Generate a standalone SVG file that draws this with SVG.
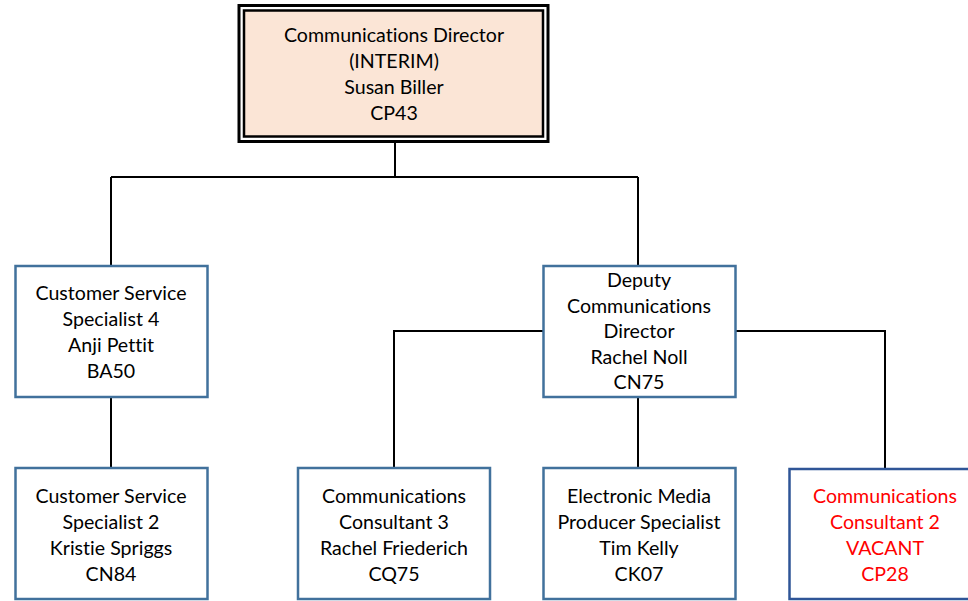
<svg xmlns="http://www.w3.org/2000/svg" width="968" height="601" viewBox="0 0 968 601">
<style>
text{font-family:Lato,"Liberation Sans",sans-serif;font-size:19.6px;fill:#000;text-anchor:middle;font-variant-ligatures:none;font-feature-settings:"liga" 0}
.box{fill:#fff;stroke:#41719C;stroke-width:2.5}
.red text{fill:#FF0000}
.conn{stroke:#000;stroke-width:2;fill:none}
</style>
<rect width="968" height="601" fill="#fff"/>
<g id="connectors">
<path class="conn" d="M395,142 V177 M111,177 H638 M111,177 V266 M638,177 V266"/>
<path class="conn" d="M111,397 V468" stroke-width="2.5"/>
<path class="conn" d="M394,468 V331 H544 M736,331 H885 V468 M638,397 V468"/>
</g>
<g id="director">
<rect x="239" y="5.5" width="309" height="136" fill="#fff" stroke="#000" stroke-width="3"/>
<rect x="244" y="10.5" width="299" height="126" fill="#FBE5D6" stroke="#000" stroke-width="2.5"/>
<text x="394" y="42">Communications Director</text>
<text x="394" y="68">(INTERIM)</text>
<text x="394" y="94">Susan Biller</text>
<text x="394" y="120">CP43</text>
</g>
<g id="cs4">
<rect class="box" x="15.5" y="266" width="192" height="131"/>
<text x="111" y="300">Customer Service</text>
<text x="111" y="326">Specialist 4</text>
<text x="111" y="352">Anji Pettit</text>
<text x="111" y="378">BA50</text>
</g>
<g id="deputy">
<rect class="box" x="543.5" y="266" width="192" height="131"/>
<text x="639" y="287">Deputy</text>
<text x="639" y="313">Communications</text>
<text x="639" y="338">Director</text>
<text x="639" y="364">Rachel Noll</text>
<text x="639" y="389">CN75</text>
</g>
<g id="cs2">
<rect class="box" x="15.5" y="468" width="192" height="131"/>
<text x="111" y="503">Customer Service</text>
<text x="111" y="529">Specialist 2</text>
<text x="111" y="555">Kristie Spriggs</text>
<text x="111" y="581">CN84</text>
</g>
<g id="cc3">
<rect class="box" x="298" y="468" width="192" height="131"/>
<text x="394" y="503">Communications</text>
<text x="394" y="529">Consultant 3</text>
<text x="394" y="555">Rachel Friederich</text>
<text x="394" y="581">CQ75</text>
</g>
<g id="emps">
<rect class="box" x="543.5" y="468" width="192" height="131"/>
<text x="639" y="503">Electronic Media</text>
<text x="639" y="529">Producer Specialist</text>
<text x="639" y="555">Tim Kelly</text>
<text x="639" y="581">CK07</text>
</g>
<g id="cc2" class="red">
<rect class="box" x="789.5" y="469" width="192" height="130" style="stroke:#2F5597"/>
<text x="885" y="503">Communications</text>
<text x="885" y="529">Consultant 2</text>
<text x="885" y="555">VACANT</text>
<text x="885" y="581">CP28</text>
</g>
</svg>
